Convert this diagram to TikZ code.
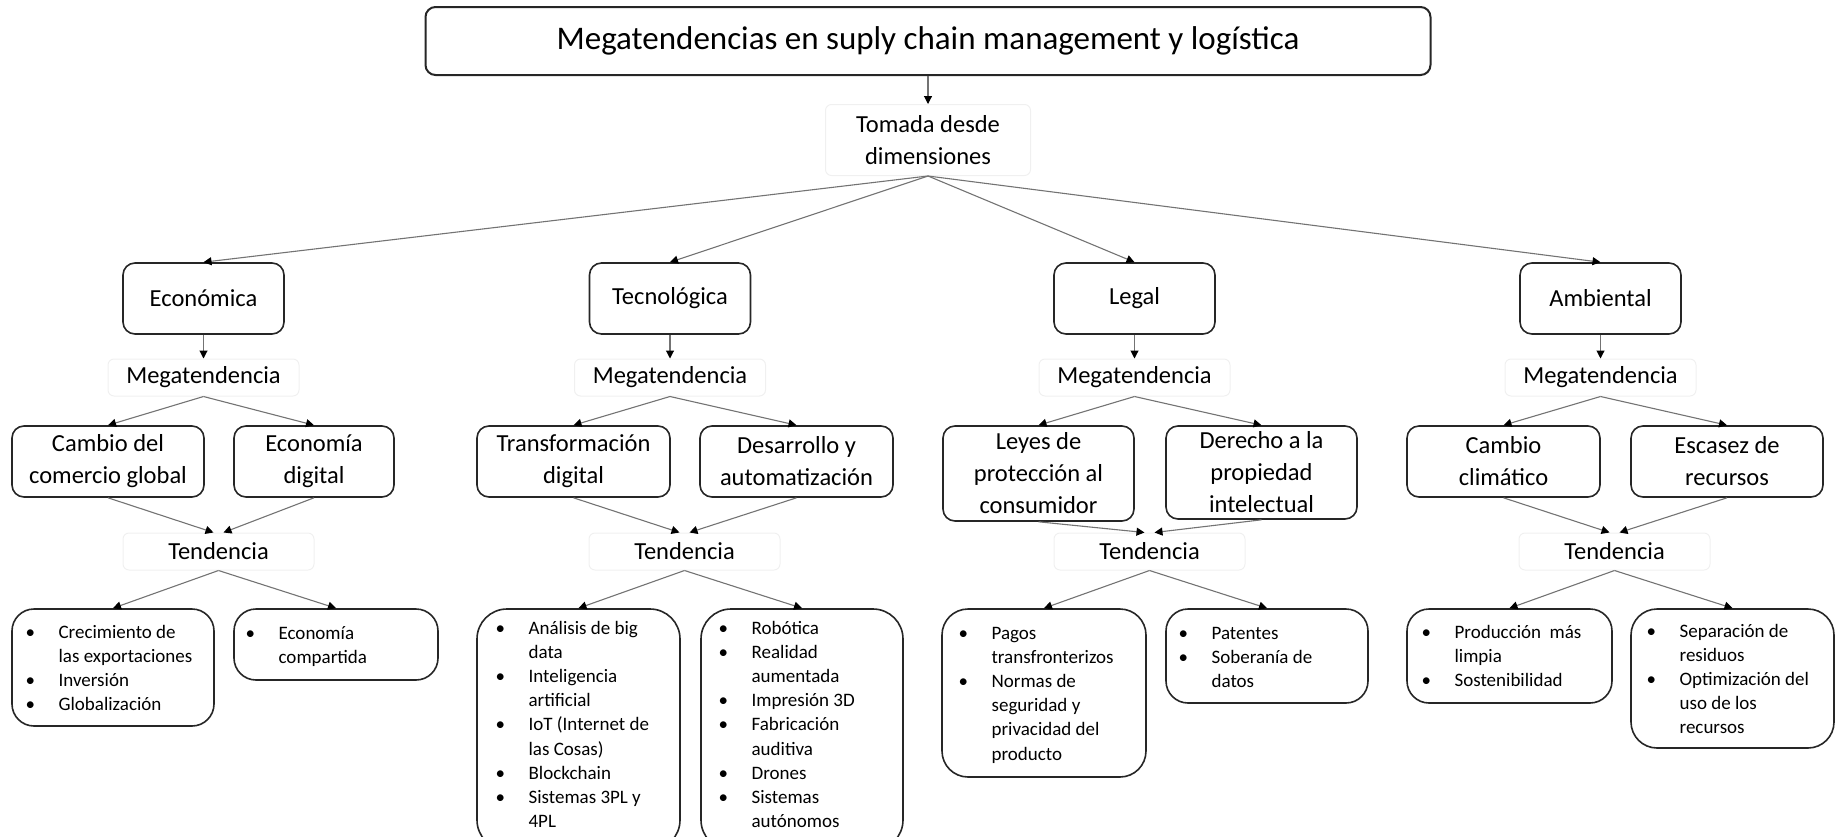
\documentclass[tikz,border=0pt]{standalone}
\usepackage{fontspec}
\setmainfont{Carlito}
\usetikzlibrary{arrows.meta}
\newcommand\blt[1]{\makebox[33pt][l]{\textbullet}#1}
\newcommand\cnt[1]{\hspace*{33pt}#1}
\begin{document}
\begin{tikzpicture}[x=1pt,y=-1pt,
  box/.style={draw=black!85, line width=1.6pt, rounded corners=12pt, fill=white, align=center, inner sep=0pt},
  faint/.style={draw=black!6, line width=1pt, rounded corners=6pt, align=center, inner sep=0pt},
  lbl/.style={font=\fontsize{24.5}{32}\selectfont},
  dim/.style={box, lbl, minimum width=161pt, minimum height=71pt},
  mega/.style={faint, lbl, minimum width=191pt, minimum height=37pt},
  sec/.style={box, lbl, minimum width=192pt, minimum height=71pt},
  lbox/.style={box, rounded corners=22pt},
  lst/.style={font=\fontsize{19}{24.2}\selectfont, align=left, inner sep=0pt, anchor=base west},
  conn/.style={draw=black!55, line width=1.1pt, -{Triangle[length=8pt,width=8pt,color=black]}},
]
\useasboundingbox (0,0) rectangle (1837,836);
\clip (0,0) rectangle (1837,836);

% title
\node[box, rounded corners=10pt, line width=2pt, minimum width=1005pt, minimum height=68pt,
      font=\fontsize{33}{40}\selectfont] (title) at (928,41) {Megatendencias en suply chain management y logística};
\node[faint, lbl, minimum width=205pt, minimum height=71pt] (tomada) at (928,140) {Tomada desde\\dimensiones};
\draw[conn] (title.south) -- (tomada.north);

% dimensions
\node[dim] (eco) at (203.5,298.5) {Económica};
\node[dim] (tec) at (670,298.5) {Tecnológica};
\node[dim] (leg) at (1134.5,298.5) {Legal};
\node[dim] (amb) at (1600.5,298.5) {Ambiental};
\foreach \n in {eco,tec,leg,amb} \draw[conn] (tomada.south) -- (\n.north);

% megatendencia
\node[mega] (meco) at (203.5,377.5) {Megatendencia};
\node[mega] (mtec) at (670,377.5) {Megatendencia};
\node[mega] (mleg) at (1134.5,377.5) {Megatendencia};
\node[mega] (mamb) at (1600.5,377.5) {Megatendencia};
\draw[conn] (eco) -- (meco);
\draw[conn] (tec) -- (mtec);
\draw[conn] (leg) -- (mleg);
\draw[conn] (amb) -- (mamb);

% second level
\node[sec] (cgl) at (108,461.5) {Cambio del\\comercio global};
\node[sec, minimum width=160pt] (edi) at (314,461.5) {Economía\\digital};
\node[sec, minimum width=193pt] (tdi) at (573.5,461.5) {Transformación\\digital};
\node[sec, minimum width=193pt] (dau) at (796.5,461.5) {Desarrollo y\\automatización};
\node[sec, minimum width=191pt, minimum height=95pt] (lpc) at (1038.5,473.5) {Leyes de\\protección al\\consumidor};
\node[sec, minimum width=191pt, minimum height=93pt] (dpi) at (1261.5,472.5) {Derecho a la\\propiedad\\intelectual};
\node[sec, minimum width=193pt] (ccl) at (1503.5,461.5) {Cambio\\climático};
\node[sec] (esr) at (1727,461.5) {Escasez de\\recursos};
\draw[conn] (meco.south) -- (cgl.north);
\draw[conn] (meco.south) -- (edi.north);
\draw[conn] (mtec.south) -- (tdi.north);
\draw[conn] (mtec.south) -- (dau.north);
\draw[conn] (mleg.south) -- (lpc.north);
\draw[conn] (mleg.south) -- (dpi.north);
\draw[conn] (mamb.south) -- (ccl.north);
\draw[conn] (mamb.south) -- (esr.north);

% tendencia
\node[mega] (teco) at (218.5,551.5) {Tendencia};
\node[mega] (ttec) at (684.5,551.5) {Tendencia};
\node[mega] (tleg) at (1149.5,551.5) {Tendencia};
\node[mega] (tamb) at (1614.5,551.5) {Tendencia};
\draw[conn] (cgl.south) -- ([xshift=-5pt]teco.north);
\draw[conn] (edi.south) -- ([xshift=5pt]teco.north);
\draw[conn] (tdi.south) -- ([xshift=-5pt]ttec.north);
\draw[conn] (dau.south) -- ([xshift=5pt]ttec.north);
\draw[conn] (lpc.south) -- ([xshift=-5pt]tleg.north);
\draw[conn] (dpi.south) -- ([xshift=5pt]tleg.north);
\draw[conn] (ccl.south) -- ([xshift=-5pt]tamb.north);
\draw[conn] (esr.south) -- ([xshift=5pt]tamb.north);

% list boxes
\node[lbox, minimum width=202pt, minimum height=117pt] (leco) at (113,667.5) {};
\node[lbox, minimum width=204pt, minimum height=71pt] (reco) at (336,644.5) {};
\node[lbox, rounded corners=30pt, minimum width=203pt, minimum height=241pt] (ltec) at (578.5,729.5) {};
\node[lbox, rounded corners=30pt, minimum width=202pt, minimum height=241pt] (rtec) at (802,729.5) {};
\node[lbox, rounded corners=26pt, minimum width=204pt, minimum height=168pt] (lleg) at (1044,693) {};
\node[lbox, minimum width=202pt, minimum height=94pt] (rleg) at (1267,656) {};
\node[lbox, minimum width=205pt, minimum height=94pt] (lamb) at (1509.5,656) {};
\node[lbox, rounded corners=26pt, minimum width=203pt, minimum height=139pt] (ramb) at (1732.5,678.5) {};
\draw[conn] (teco.south) -- (leco.north);
\draw[conn] (teco.south) -- (reco.north);
\draw[conn] (ttec.south) -- (ltec.north);
\draw[conn] (ttec.south) -- (rtec.north);
\draw[conn] (tleg.south) -- (lleg.north);
\draw[conn] (tleg.south) -- (rleg.north);
\draw[conn] (tamb.south) -- (lamb.north);
\draw[conn] (tamb.south) -- (ramb.north);

% list texts (anchored at the baseline of their last line)
\node[lst] (leco-t) at (25.4,710.6) {\blt{Crecimiento de}\\\cnt{las exportaciones}\\\blt{Inversión}\\\blt{Globalización}};
\node[lst] (reco-t) at (245.4,663.2) {\blt{Economía}\\\cnt{compartida}};
\node[lst] (ltec-t) at (495.4,827.6) {\blt{Análisis de big}\\\cnt{data}\\\blt{Inteligencia}\\\cnt{artificial}\\\blt{IoT (Internet de}\\\cnt{las Cosas)}\\\blt{Blockchain}\\\blt{Sistemas 3PL y}\\\cnt{4PL}};
\node[lst] (rtec-t) at (718.4,827.6) {\blt{Robótica}\\\blt{Realidad}\\\cnt{aumentada}\\\blt{Impresión 3D}\\\blt{Fabricación}\\\cnt{auditiva}\\\blt{Drones}\\\blt{Sistemas}\\\cnt{autónomos}};
\node[lst] (lleg-t) at (958.4,760) {\blt{Pagos}\\\cnt{transfronterizos}\\\blt{Normas de}\\\cnt{seguridad y}\\\cnt{privacidad del}\\\cnt{producto}};
\node[lst] (rleg-t) at (1178.4,687.4) {\blt{Patentes}\\\blt{Soberanía de}\\\cnt{datos}};
\node[lst] (lamb-t) at (1421.4,686.4) {\blt{Producción\ \ más}\\\cnt{limpia}\\\blt{Sostenibilidad}};
\node[lst] (ramb-t) at (1646.4,733.8) {\blt{Separación de}\\\cnt{residuos}\\\blt{Optimización del}\\\cnt{uso de los}\\\cnt{recursos}};
\end{tikzpicture}
\end{document}
